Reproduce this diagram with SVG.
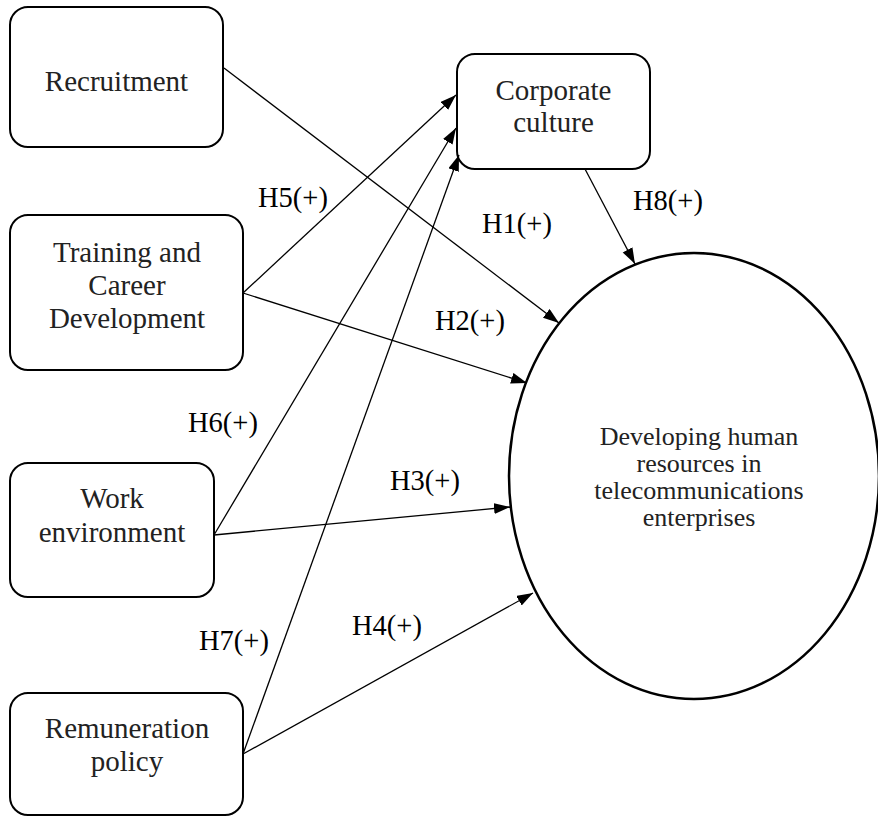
<svg xmlns="http://www.w3.org/2000/svg" width="878" height="817" viewBox="0 0 878 817">
<style>
.box{fill:#fff;stroke:#000;stroke-width:2}
.ell{fill:#fff;stroke:#000;stroke-width:2.5}
.t{font-family:"Liberation Serif","Times New Roman",serif;font-size:29px;fill:#222;text-anchor:middle}
.te{font-family:"Liberation Serif","Times New Roman",serif;font-size:26px;fill:#222;text-anchor:middle}
.lb{font-family:"Liberation Serif","Times New Roman",serif;font-size:28.5px;fill:#000}
.c{fill:none;stroke:#000;stroke-width:1.3;marker-end:url(#ah)}
</style>
<defs>
<marker id="ah" markerUnits="userSpaceOnUse" markerWidth="17" markerHeight="12" refX="16" refY="5.5" orient="auto">
<path d="M0,0 L16,5.5 L0,11 z" fill="#000"/>
</marker>
</defs>
<rect width="878" height="817" fill="#fff"/>
<g id="n-recruitment"><rect class="box" x="10" y="7" width="213" height="140" rx="18"/><text class="t" x="116.5" y="91">Recruitment</text></g>
<g id="n-training"><rect class="box" x="10" y="215" width="233" height="155" rx="18"/><text class="t" x="127" y="262">Training and</text><text class="t" x="127" y="295">Career</text><text class="t" x="127" y="328">Development</text></g>
<g id="n-work"><rect class="box" x="10" y="463" width="204" height="134" rx="18"/><text class="t" x="112" y="508">Work</text><text class="t" x="112" y="542">environment</text></g>
<g id="n-remuneration"><rect class="box" x="10" y="693" width="233" height="122" rx="18"/><text class="t" x="127" y="738">Remuneration</text><text class="t" x="127" y="771">policy</text></g>
<g id="n-culture"><rect class="box" x="457" y="54" width="193" height="115" rx="18"/><text class="t" x="553.5" y="100">Corporate</text><text class="t" x="553.5" y="132">culture</text></g>
<g id="n-hrd"><ellipse class="ell" cx="694" cy="476" rx="185" ry="223"/><text class="te" x="699" y="445">Developing human</text><text class="te" x="699" y="472">resources in</text><text class="te" x="699" y="499">telecommunications</text><text class="te" x="699" y="526">enterprises</text></g>
<g id="connectors">
<line class="c" x1="224" y1="68" x2="559" y2="323"/>
<line class="c" x1="243" y1="293" x2="527" y2="383"/>
<line class="c" x1="214" y1="535" x2="510" y2="507"/>
<line class="c" x1="243" y1="754" x2="533" y2="593"/>
<line class="c" x1="243" y1="293" x2="456" y2="95"/>
<line class="c" x1="214" y1="535" x2="456" y2="128"/>
<line class="c" x1="243" y1="754" x2="459" y2="155"/>
<line class="c" x1="585" y1="169" x2="635" y2="264"/>
</g>
<g id="labels">
<text class="lb" x="482" y="233">H1(+)</text>
<text class="lb" x="435" y="330">H2(+)</text>
<text class="lb" x="390" y="490">H3(+)</text>
<text class="lb" x="352" y="635">H4(+)</text>
<text class="lb" x="258" y="207">H5(+)</text>
<text class="lb" x="188" y="432">H6(+)</text>
<text class="lb" x="199" y="650">H7(+)</text>
<text class="lb" x="633" y="210">H8(+)</text>
</g>
</svg>
